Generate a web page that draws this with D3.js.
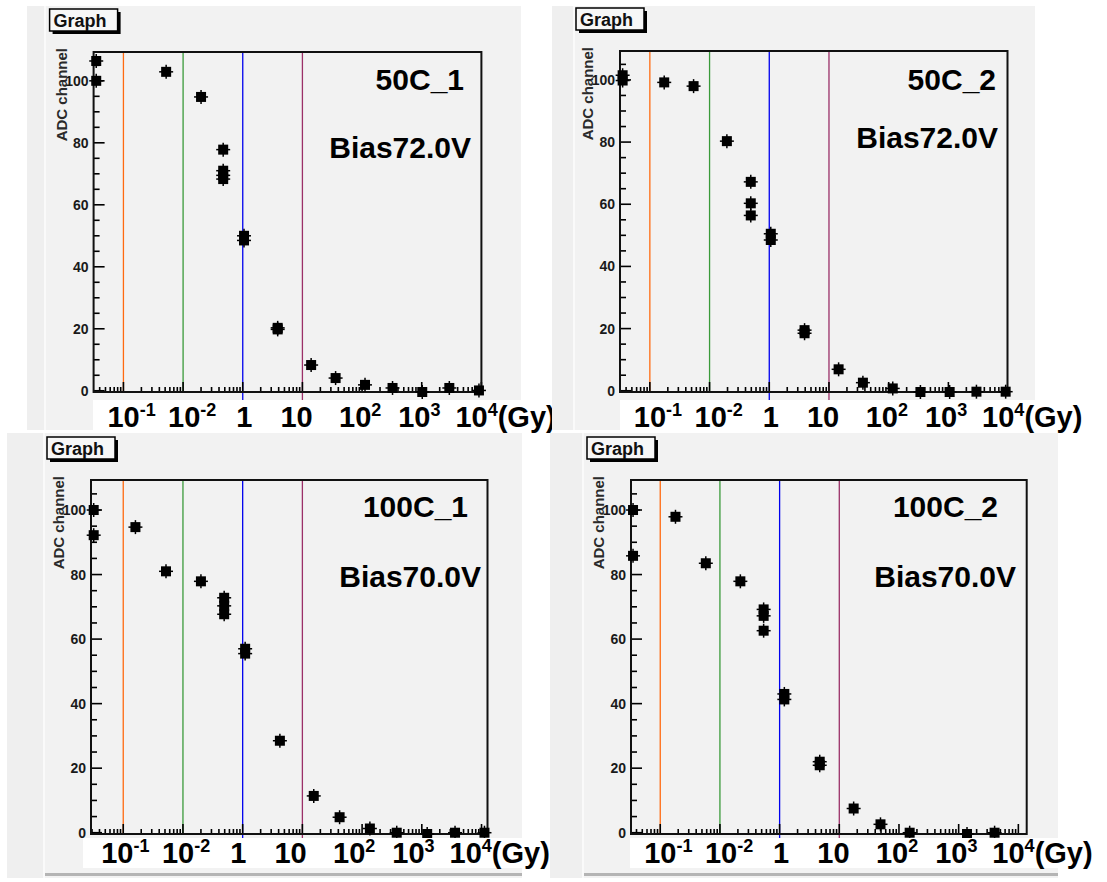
<!DOCTYPE html>
<html>
<head>
<meta charset="utf-8">
<script src="https://cdn.jsdelivr.net/npm/d3@7"></script>
<style>
  body { margin: 0; background: #fff; }
  svg { display: block; font-family: "Liberation Sans", Arial, sans-serif; }
</style>
</head>
<body>
<div id="chart"></div>
<script>
// panel names and bias text
var panelNames = ["50C_1", "50C_2", "100C_1", "100C_2"];
var biasLabels = ["Bias72.0V", "Bias72.0V", "Bias70.0V", "Bias70.0V"];

// dose (Gy) and ADC channel
var dose_50C_1 = [0.0035, 0.0035, 0.052, 0.2, 0.47, 0.47, 0.47, 0.47, 1.05, 1.05, 3.85, 3.85, 14, 36, 112, 324, 1020, 2900, 9100];
var adc_50C_1  = [106.4, 100, 102.9, 94.8, 77.8, 71, 69.5, 68.3, 50, 48.5, 20.3, 19.8, 8.3, 4.1, 1.9, 0.9, -0.4, 0.9, 0.1];

var dose_50C_2 = [0.0035, 0.0035, 0.0174, 0.054, 0.195, 0.49, 0.49, 0.49, 1.06, 1.06, 3.9, 3.9, 14.5, 37, 117, 340, 1050, 2950, 9100];
var adc_50C_2  = [101.5, 99.8, 99.2, 98.0, 80.3, 67.2, 60.3, 56.4, 50.5, 48.5, 19.5, 18.5, 6.9, 2.6, 0.75, -0.4, -0.4, -0.3, -0.3];

var dose_100C_1 = [0.0032, 0.0032, 0.016, 0.052, 0.2, 0.49, 0.49, 0.49, 1.1, 1.1, 4.2, 15.5, 42, 135, 380, 1230, 3600, 11200];
var adc_100C_1  = [100, 92.2, 94.7, 81.0, 77.9, 72.8, 70.3, 67.7, 57, 55.5, 28.5, 11.4, 4.8, 1.3, 0, -0.4, 0, 0];

var dose_100C_2 = [0.0035, 0.0035, 0.018, 0.058, 0.22, 0.54, 0.54, 0.54, 1.2, 1.2, 4.7, 4.7, 17.4, 49, 151, 1380, 4000];
var adc_100C_2  = [100, 85.8, 97.9, 83.5, 77.9, 69.2, 67.2, 62.6, 43, 41.3, 22, 20.9, 7.5, 2.6, 0, -0.4, 0];

var doses = [dose_50C_1, dose_50C_2, dose_100C_1, dose_100C_2];
var adcs = [adc_50C_1, adc_50C_2, adc_100C_1, adc_100C_2];

// axis ticks and the pasted-on dose labels
var yTicks = [0, 20, 40, 60, 80, 100];
var decades = [0.01, 0.1, 1, 10, 100, 1000, 10000];
var decadeBase = ["10", "10", "1", "10", "10", "10", "10"];
var decadeSup = ["-1", "-2", "", "", "2", "3", "4"];
var decadeTail = ["", "", "", "", "", "", "(Gy)"];

// reference dose lines
var lineDoses = [0.01, 0.1, 1, 10];
var lineColors = ["#ff6a10", "#3a9a3a", "#0000ee", "#9b3068"];

// where each canvas sits in the window
var layout = [
  { cx0: 27, cy0: 6, cx1: 521, cy1: 430, padL: 46, l: 93.6, r: 481.4, t: 52, b: 392, xd: [-2.5, 4.0], ovL: 93, ovTop: 400, lblShift: 0, lblBase: 427, nameX: 464, nameY: 90, biasX: 471, biasY: 158, edge: false },
  { cx0: 552, cy0: 6, cx1: 1035, cy1: 430, padL: 575, l: 620, r: 1007.5, t: 51, b: 392, xd: [-2.5, 3.99], ovL: 620, ovTop: 400, lblShift: 0, lblBase: 427, nameX: 996, nameY: 90, biasX: 998, biasY: 148, edge: false },
  { cx0: 7, cy0: 433, cx1: 522, cy1: 878, padL: 45, l: 91, r: 487.5, t: 480, b: 834, xd: [-2.54, 4.1], ovL: 83, ovTop: 838, lblShift: -6, lblBase: 863, nameX: 468, nameY: 517, biasX: 481, biasY: 587, edge: true },
  { cx0: 550, cy0: 433, cx1: 1058, cy1: 878, padL: 584, l: 631, r: 1026.7, t: 480, b: 834, xd: [-2.49, 4.14], ovL: 630, ovTop: 838, lblShift: 0, lblBase: 863, nameX: 998, nameY: 517, biasX: 1016, biasY: 587, edge: true }
];
var labelDx = [-16, -15, -6.5, -22, -23, -23.5, -26];

var svg = d3.select("#chart")
  .append("svg")
    .attr("width", 1107)
    .attr("height", 882);

svg.append("rect").attr("width", 1107).attr("height", 882).attr("fill", "#fff");

layout.forEach(function(p, i) {
  var g = svg.append("g");

  // canvas background
  g.append("rect")
    .attr("x", p.cx0).attr("y", p.cy0)
    .attr("width", p.cx1 - p.cx0).attr("height", p.cy1 - p.cy0)
    .attr("fill", "#efefef");
  g.append("rect")
    .attr("x", p.padL - 2).attr("y", p.cy0)
    .attr("width", 2).attr("height", p.cy1 - p.cy0)
    .attr("fill", "#fafafa");
  g.append("rect")
    .attr("x", p.padL).attr("y", p.cy0)
    .attr("width", p.cx1 - p.padL).attr("height", p.cy1 - p.cy0)
    .attr("fill", "#f2f2f2");
  if (p.edge) {
    g.append("rect")
      .attr("x", p.padL).attr("y", p.cy1 - 5)
      .attr("width", p.cx1 - p.padL).attr("height", 3)
      .attr("fill", "#b4b4b4");
  }

  var x = d3.scaleLog()
    .domain([Math.pow(10, p.xd[0]), Math.pow(10, p.xd[1])])
    .range([p.l, p.r]);
  var y = d3.scaleLinear()
    .domain([-0.4, 109.3])
    .range([p.b, p.t]);

  // title box "Graph"
  var bx = p.l - 44, by = p.t - 43;
  g.append("rect").attr("x", bx + 3).attr("y", by + 3).attr("width", 68).attr("height", 22).attr("fill", "#000");
  g.append("rect").attr("x", bx).attr("y", by).attr("width", 68).attr("height", 22)
    .attr("fill", "#f7f7f7").attr("stroke", "#000").attr("stroke-width", 1.5);
  g.append("text").attr("x", bx + 4).attr("y", by + 18)
    .attr("font-size", 18).attr("font-weight", "bold").attr("fill", "#111")
    .text("Graph");

  // reference lines
  lineDoses.forEach(function(d, k) {
    g.append("line")
      .attr("x1", x(d)).attr("x2", x(d))
      .attr("y1", p.t).attr("y2", k >= 2 ? p.ovTop : p.b + 1)
      .attr("stroke", lineColors[k]).attr("stroke-width", 1.3);
  });

  // y ticks
  var yMinor = d3.range(0, 110, 5);
  g.selectAll(".ymin").data(yMinor).enter().append("line")
    .attr("x1", p.l).attr("x2", function(v) { return p.l + (v % 20 === 0 ? 11 : 6); })
    .attr("y1", function(v) { return y(v); }).attr("y2", function(v) { return y(v); })
    .attr("stroke", "#000").attr("stroke-width", 1.6);
  g.selectAll(".ylab").data(yTicks).enter().append("text")
    .attr("x", p.l - 5).attr("y", function(v) { return y(v); })
    .attr("dy", "0.36em").attr("text-anchor", "end")
    .attr("font-size", 14).attr("font-weight", "bold").attr("fill", "#1a1a1a")
    .text(function(v) { return v; });

  // x log ticks
  var xMinor = [];
  for (var e = -3; e <= 4; e++) {
    for (var m = 1; m <= 9; m++) {
      var v = m * Math.pow(10, e);
      if (Math.log10(v) > p.xd[0] && Math.log10(v) < p.xd[1] + 0.001) xMinor.push({ v: v, major: m === 1 });
    }
  }
  g.selectAll(".xmin").data(xMinor).enter().append("line")
    .attr("x1", function(d) { return x(d.v); }).attr("x2", function(d) { return x(d.v); })
    .attr("y1", p.b).attr("y2", function(d) { return p.b - (d.major ? 10 : 5); })
    .attr("stroke", "#000").attr("stroke-width", 1.6);

  // frame
  g.append("rect")
    .attr("x", p.l).attr("y", p.t)
    .attr("width", p.r - p.l).attr("height", p.b - p.t)
    .attr("fill", "none").attr("stroke", "#111").attr("stroke-width", 2);

  // y title
  g.append("text")
    .attr("transform", "translate(" + (p.l - 27) + "," + (p.t - 4) + ") rotate(-90)")
    .attr("text-anchor", "end")
    .attr("font-size", 15).attr("font-weight", "bold").attr("fill", "#2a2a2a")
    .text("ADC channel");

  // data markers (square with short error bars)
  var pts = doses[i].map(function(d, k) { return { d: d, v: adcs[i][k] }; });
  var mk = g.selectAll(".mk").data(pts).enter().append("g")
    .attr("transform", function(d) { return "translate(" + x(d.d) + "," + y(d.v) + ")"; });
  mk.append("line").attr("x1", -7).attr("x2", 7).attr("y1", 0).attr("y2", 0)
    .attr("stroke", "#000").attr("stroke-width", 1.5);
  mk.append("line").attr("x1", 0).attr("x2", 0).attr("y1", -7).attr("y2", 7)
    .attr("stroke", "#000").attr("stroke-width", 1.5);
  mk.append("rect").attr("x", -5).attr("y", -5).attr("width", 10).attr("height", 10)
    .attr("fill", "#000");

  // sample and bias text
  g.append("text").attr("x", p.nameX).attr("y", p.nameY)
    .attr("text-anchor", "end").attr("font-size", 30).attr("font-weight", "bold")
    .text(panelNames[i]);
  g.append("text").attr("x", p.biasX).attr("y", p.biasY)
    .attr("text-anchor", "end").attr("font-size", 30).attr("font-weight", "bold")
    .text(biasLabels[i]);

  // white strip with pasted dose labels
  g.append("rect")
    .attr("x", p.ovL).attr("y", p.ovTop)
    .attr("width", p.cx1 - p.ovL + 60).attr("height", 30)
    .attr("fill", "#fff");
  decades.forEach(function(d, k) {
    var t = g.append("text")
      .attr("x", x(d) + labelDx[k] + p.lblShift)
      .attr("y", p.lblBase)
      .attr("font-size", 29).attr("font-weight", "bold").attr("fill", "#000");
    t.append("tspan").text(decadeBase[k]);
    if (decadeSup[k]) {
      t.append("tspan").attr("font-size", 18).attr("dy", -11).text(decadeSup[k]);
    }
    if (decadeTail[k]) {
      t.append("tspan").attr("dy", 11).text(decadeTail[k]);
    }
  });
});
</script>
</body>
</html>
